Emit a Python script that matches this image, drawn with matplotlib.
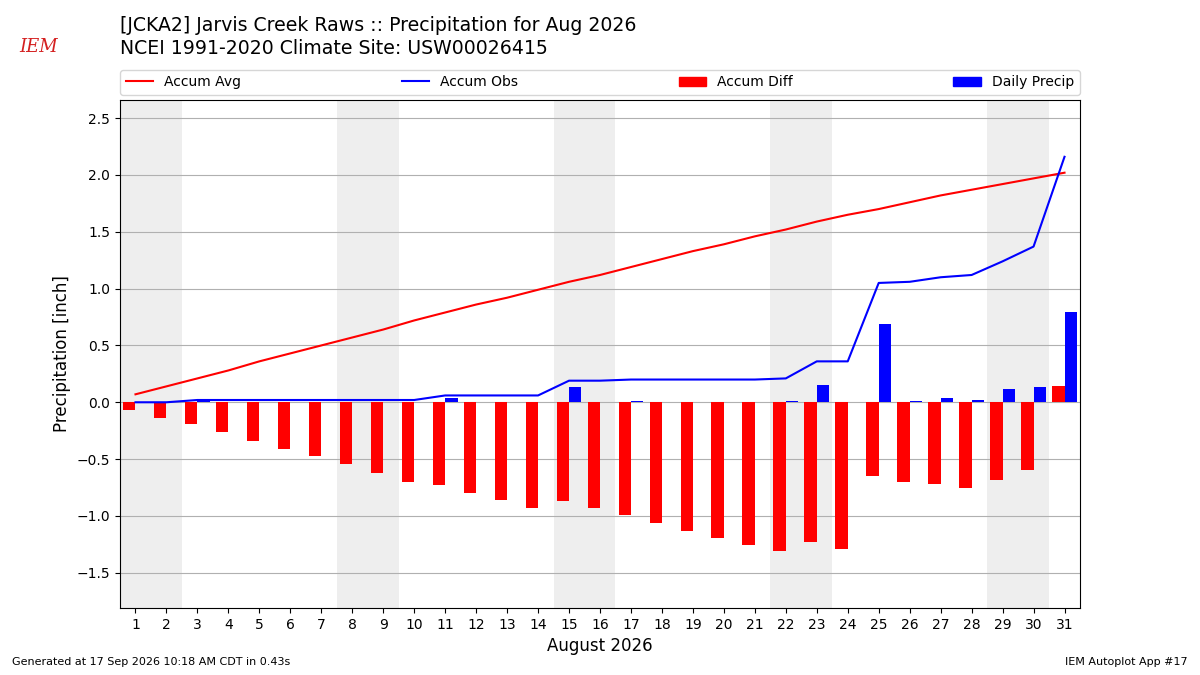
import matplotlib
matplotlib.use("Agg")
import matplotlib.pyplot as plt
from matplotlib.lines import Line2D
from matplotlib.patches import Patch
import numpy as np

# dias del mes
days = list(range(1, 32))
weekend_days = [1, 2, 8, 9, 15, 16, 22, 23, 29, 30]

# valores (pulgadas)
accum_avg = [0.07, 0.14, 0.21, 0.28, 0.36, 0.43, 0.50, 0.57, 0.64, 0.72,
             0.79, 0.86, 0.92, 0.99, 1.06, 1.12, 1.19, 1.26, 1.33, 1.39,
             1.46, 1.52, 1.59, 1.65, 1.70, 1.76, 1.82, 1.87, 1.92, 1.97, 2.02]
accum_obs = [0.00, 0.00, 0.02, 0.02, 0.02, 0.02, 0.02, 0.02, 0.02, 0.02,
             0.06, 0.06, 0.06, 0.06, 0.19, 0.19, 0.20, 0.20, 0.20, 0.20,
             0.20, 0.21, 0.36, 0.36, 1.05, 1.06, 1.10, 1.12, 1.24, 1.37, 2.16]
accum_diff = [-0.07, -0.14, -0.19, -0.26, -0.34, -0.41, -0.47, -0.54, -0.62, -0.70,
              -0.73, -0.80, -0.86, -0.93, -0.87, -0.93, -0.99, -1.06, -1.13, -1.19,
              -1.26, -1.31, -1.23, -1.29, -0.65, -0.70, -0.72, -0.75, -0.68, -0.60, 0.14]
daily_precip = [0.00, 0.00, 0.02, 0.00, 0.00, 0.00, 0.00, 0.00, 0.00, 0.00,
                0.04, 0.00, 0.00, 0.00, 0.13, 0.00, 0.01, 0.00, 0.00, 0.00,
                0.00, 0.01, 0.15, 0.00, 0.69, 0.01, 0.04, 0.02, 0.12, 0.13, 0.79]

fig = plt.figure(figsize=(12, 6.75), dpi=100)
ax = fig.add_axes([0.1, 0.0993, 0.8, 0.7526])

# sombreado de fines de semana
for d in weekend_days:
    ax.axvspan(d - 0.5, d + 0.5, color="#eeeeee", zorder=0, lw=0)

ax.bar(days, accum_diff, width=-0.4, align="edge", color="r", zorder=2)
ax.bar(days, daily_precip, width=0.4, align="edge", color="b", zorder=2)
ax.plot(days, accum_avg, color="r", lw=1.5, zorder=3)
ax.plot(days, accum_obs, color="b", lw=1.5, zorder=3)

ax.set_xlim(0.5, 31.5)
ax.set_ylim(-1.81, 2.66)
ax.set_xticks(days)
ax.set_yticks(np.arange(-1.5, 2.51, 0.5))
ax.yaxis.grid(True, color="#b0b0b0", lw=0.8, zorder=1)
ax.set_axisbelow(True)
ax.tick_params(labelsize=10)
ax.set_xlabel("August 2026", fontsize=12)
ax.set_ylabel("Precipitation [inch]", fontsize=12)

handles = [Line2D([], [], color="r", lw=1.5), Line2D([], [], color="b", lw=1.5),
           Patch(color="r"), Patch(color="b")]
labels = ["Accum Avg", "Accum Obs", "Accum Diff", "Daily Precip"]
ax.legend(handles, labels, loc="lower left", bbox_to_anchor=(0, 1.01, 1, 0.05),
          ncol=4, mode="expand", borderaxespad=0, fontsize=10)

fig.text(0.1, 0.962, "[JCKA2] Jarvis Creek Raws :: Precipitation for Aug 2026",
         fontsize=13.6, va="center")
fig.text(0.1, 0.928, "NCEI 1991-2020 Climate Site: USW00026415",
         fontsize=13.6, va="center")

# logo aproximado
fig.text(0.032, 0.931, "IEM", color="#d42020", fontsize=13, style="italic",
         family="DejaVu Serif", ha="center", va="center")

fig.text(0.01, 0.015, "Generated at 17 Sep 2026 10:18 AM CDT in 0.43s", fontsize=8)
fig.text(0.99, 0.015, "IEM Autoplot App #17", fontsize=8, ha="right")

fig.savefig("out.png", dpi=100)
